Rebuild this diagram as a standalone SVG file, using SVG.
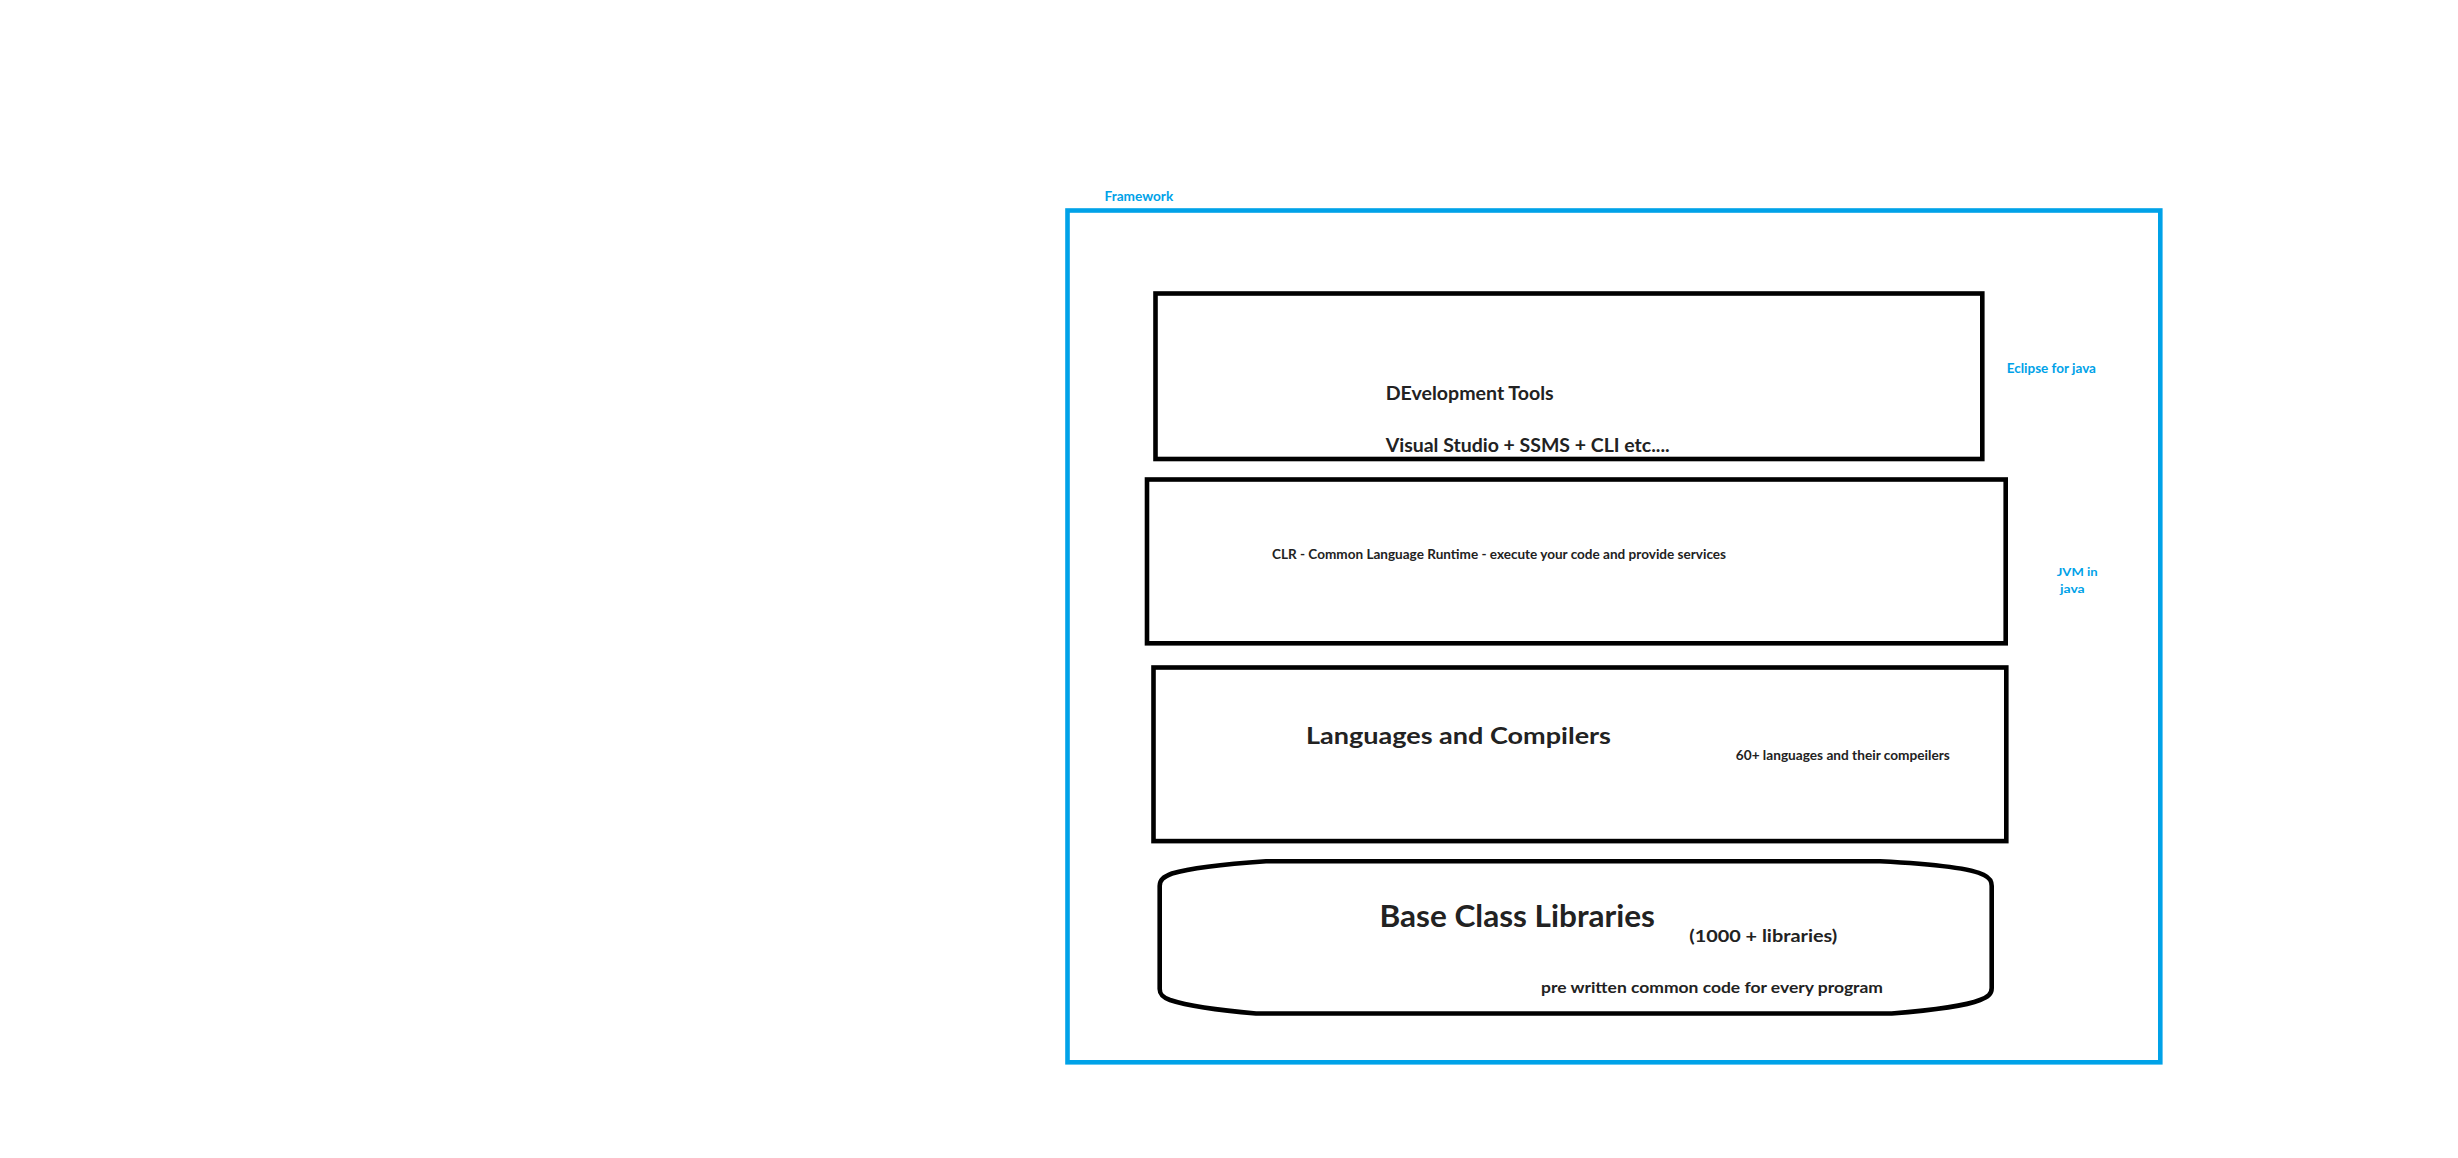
<svg xmlns="http://www.w3.org/2000/svg" width="2458" height="1158" viewBox="0 0 2458 1158">
<style>
  .bg { fill: #ffffff; }
  .frame { fill: none; stroke: #00a2e8; stroke-width: 4.6; }
  .box { fill: #ffffff; stroke: #000000; stroke-width: 4.6; }
  .t { font-family: Lato, "Liberation Sans", "DejaVu Sans", sans-serif; font-weight: bold; fill: #222222; }
  .blue { font-family: Lato, "Liberation Sans", "DejaVu Sans", sans-serif; font-weight: bold; fill: #00a2e8; }
</style>
<rect class="bg" x="0" y="0" width="2458" height="1158"/>
<g id="framework">
  <rect class="frame" x="1067.5" y="210.5" width="1092.8" height="851.8"/>
  <text class="blue" x="1104.5" y="200.7" font-size="12.6" textLength="68.7" lengthAdjust="spacingAndGlyphs">Framework</text>
</g>
<g id="dev-tools">
  <rect class="box" x="1155.5" y="293.5" width="826.8" height="165.5"/>
  <text class="t" x="1385.7" y="400" font-size="18.6" textLength="168" lengthAdjust="spacingAndGlyphs">DEvelopment Tools</text>
  <text class="t" x="1385.7" y="451.7" font-size="18.6" textLength="284" lengthAdjust="spacingAndGlyphs">Visual Studio + SSMS + CLI etc....</text>
</g>
<g id="eclipse-note">
  <text class="blue" x="2006.7" y="372.7" font-size="13" textLength="89.3" lengthAdjust="spacingAndGlyphs">Eclipse for java</text>
</g>
<g id="clr">
  <rect class="box" x="1147" y="479.5" width="858.7" height="163.8"/>
  <text class="t" x="1272" y="559" font-size="12.6" textLength="454" lengthAdjust="spacingAndGlyphs">CLR - Common Language Runtime - execute your code and provide services</text>
</g>
<g id="jvm-note">
  <text class="blue" x="2056.7" y="576" font-size="12.2" textLength="41" lengthAdjust="spacingAndGlyphs">JVM in</text>
  <text class="blue" x="2060" y="593.3" font-size="12.2" textLength="24.7" lengthAdjust="spacingAndGlyphs">java</text>
</g>
<g id="languages">
  <rect class="box" x="1153.5" y="667.5" width="852.8" height="173.6"/>
  <text class="t" x="1306" y="744" font-size="22.8" textLength="305" lengthAdjust="spacingAndGlyphs">Languages and Compilers</text>
  <text class="t" x="1735.8" y="760" font-size="12.6" textLength="214" lengthAdjust="spacingAndGlyphs">60+ languages and their compeilers</text>
</g>
<g id="bcl">
  <path class="box" d="M1266,861.2 L1880,861.2 C1935,864 1973,869 1984,875 C1990,878 1991.7,881 1991.7,886 L1991.7,988 C1991.7,994 1988,997 1980,1000 C1965,1006 1935,1010 1891.7,1013.5 L1256,1013.5 C1215,1010 1185,1005 1170,1000 C1162,997 1159.7,994 1159.7,989 L1159.7,886 C1159.7,880 1163,877 1172,873.5 C1190,868 1225,864 1266,861.2 Z"/>
  <text class="t" x="1379.5" y="926.5" font-size="30.7" textLength="275.5" lengthAdjust="spacingAndGlyphs">Base Class Libraries</text>
  <text class="t" x="1689.3" y="942.3" font-size="17.2" textLength="148" lengthAdjust="spacingAndGlyphs">(1000 + libraries)</text>
  <text class="t" x="1541" y="992.5" font-size="16" textLength="342" lengthAdjust="spacingAndGlyphs">pre written common code for every program</text>
</g>
<g id="connectors"></g>
</svg>
